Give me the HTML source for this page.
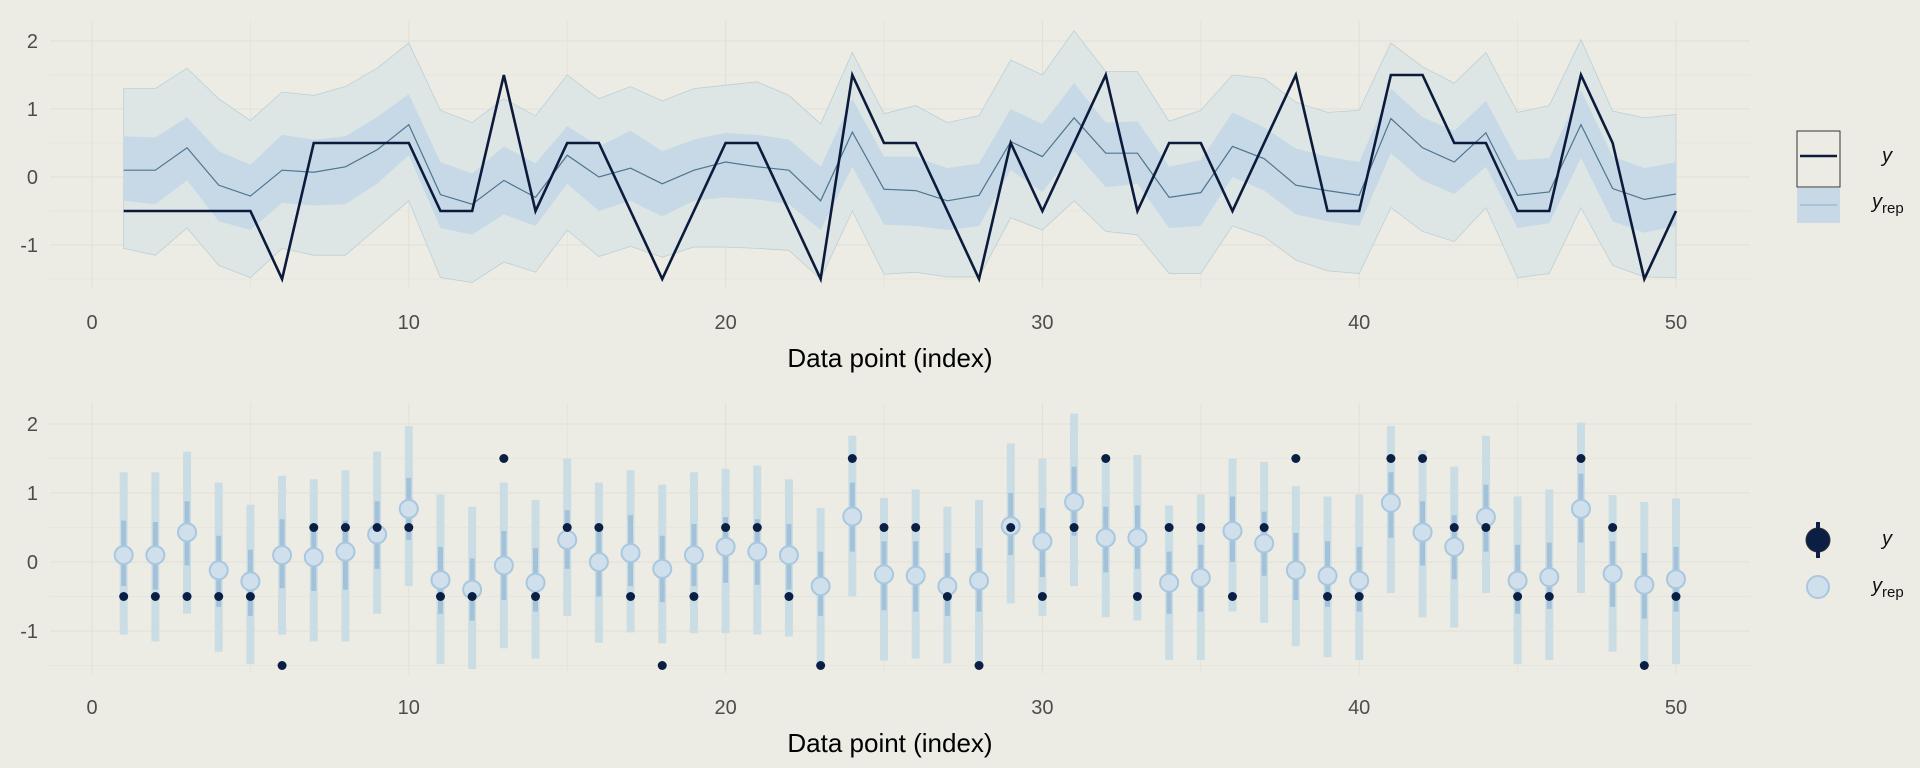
<!DOCTYPE html>
<html><head><meta charset="utf-8"><style>
body{margin:0;background:#ecece4;font-family:"Liberation Sans",sans-serif}
svg{display:block}
</style></head><body>
<svg id="c" width="1920" height="768"></svg>
<script>
const idx=[];for(let i=1;i<=50;i++)idx.push(i);
const yObs=[-0.5,-0.5,-0.5,-0.5,-0.5,-1.5,0.5,0.5,0.5,0.5,-0.5,-0.5,1.5,-0.5,0.5,0.5,-0.5,-1.5,-0.5,0.5,0.5,-0.5,-1.5,1.5,0.5,0.5,-0.5,-1.5,0.5,-0.5,0.5,1.5,-0.5,0.5,0.5,-0.5,0.5,1.5,-0.5,-0.5,1.5,1.5,0.5,0.5,-0.5,-0.5,1.5,0.5,-1.5,-0.5];
const med=[0.1,0.1,0.43,-0.12,-0.28,0.1,0.07,0.15,0.4,0.77,-0.26,-0.4,-0.05,-0.3,0.32,0,0.13,-0.1,0.1,0.22,0.15,0.1,-0.35,0.66,-0.18,-0.2,-0.35,-0.27,0.52,0.3,0.87,0.35,0.35,-0.3,-0.23,0.45,0.27,-0.12,-0.2,-0.27,0.86,0.43,0.22,0.65,-0.27,-0.22,0.77,-0.17,-0.33,-0.25];
const hiOuter=[1.3,1.3,1.6,1.15,0.83,1.25,1.2,1.33,1.6,1.97,0.98,0.8,1.15,0.9,1.5,1.15,1.33,1.12,1.3,1.35,1.4,1.2,0.78,1.83,0.93,1.05,0.8,0.9,1.72,1.5,2.15,1.55,1.55,0.82,0.98,1.5,1.45,1.1,0.95,0.98,1.97,1.62,1.38,1.83,0.95,1.05,2.02,0.97,0.87,0.92];
const loOuter=[-1.05,-1.15,-0.75,-1.3,-1.48,-1.05,-1.15,-1.15,-0.75,-0.35,-1.48,-1.55,-1.25,-1.4,-0.78,-1.17,-1.02,-1.18,-1.03,-1.03,-1.05,-1.08,-1.5,-0.5,-1.43,-1.4,-1.47,-1.47,-0.6,-0.78,-0.35,-0.8,-0.85,-1.42,-1.42,-0.72,-0.88,-1.22,-1.38,-1.42,-0.45,-0.8,-0.95,-0.45,-1.48,-1.42,-0.45,-1.3,-1.47,-1.48];
const hiInner=[0.6,0.58,0.88,0.38,0.18,0.62,0.55,0.6,0.88,1.22,0.22,0.05,0.45,0.2,0.75,0.45,0.68,0.38,0.55,0.65,0.62,0.55,0.15,1.15,0.3,0.3,0.13,0.2,1.0,0.78,1.38,0.8,0.82,0.15,0.25,0.95,0.73,0.42,0.3,0.22,1.3,0.88,0.68,1.12,0.25,0.28,1.28,0.3,0.13,0.22];
const loInner=[-0.35,-0.4,-0.05,-0.65,-0.78,-0.38,-0.42,-0.4,-0.1,0.32,-0.75,-0.85,-0.55,-0.72,-0.1,-0.5,-0.35,-0.58,-0.35,-0.3,-0.33,-0.4,-0.78,0.15,-0.7,-0.72,-0.78,-0.72,0.1,-0.22,0.38,-0.15,-0.1,-0.75,-0.72,0,-0.2,-0.55,-0.65,-0.72,0.35,-0.05,-0.25,0.15,-0.75,-0.68,0.28,-0.65,-0.82,-0.72];
const xTicks=[0,10,20,30,40,50];
const yTicks=[-1,0,1,2];

const NS="http://www.w3.org/2000/svg";
const svg=document.getElementById('c');
function el(t,a,p){const e=document.createElementNS(NS,t);for(const k in a)e.setAttribute(k,a[k]);(p||svg).appendChild(e);return e;}
const X=v=>92+v*31.68;

function panel(y0,yScale,name){
  const Y=v=>y0-v*yScale;
  const g=el('g',{});
  
  
  const yTop=Y(2.3),yBot=Y(-1.62);
  for(let v=0;v<=52.5;v+=5){el('line',{x1:X(v),x2:X(v),y1:yTop,y2:yBot,stroke:'#e0e0d8','stroke-width':v%10?0.6:1},g);}
  for(let v=-1.5;v<=2;v+=0.5){el('line',{x1:50,x2:1750,y1:Y(v),y2:Y(v),stroke:'#e0e0d8','stroke-width':Number.isInteger(v)?1:0.6},g);}
  xTicks.forEach(t=>{const e=el('text',{x:X(t),y:y0+152,'font-size':20,fill:'#4d4d4d','text-anchor':'middle'},g);e.textContent=t;
    
    });
  yTicks.forEach(t=>{const e=el('text',{x:38,y:Y(t)+7,'font-size':20,fill:'#4d4d4d','text-anchor':'end'},g);e.textContent=t;
    
    });
  const xt=el('text',{x:890,y:y0+190,'font-size':26,fill:'#000','text-anchor':'middle'},g);xt.textContent='Data point (index)';
  
  
  return {Y,g};
}

const t=panel(177,68,'ribbon-panel');
const Yt=t.Y;
function band(hi,lo,fill,stroke){
  let d='M'+idx.map((x,i)=>X(x)+','+Yt(hi[i])).join('L');
  d+='L'+idx.slice().reverse().map((x,j)=>{const i=49-j;return X(x)+','+Yt(lo[i]);}).join('L')+'Z';
  return el('path',{d,fill,stroke:stroke||'none','stroke-width':0.8},t.g);
}
const ob=band(hiOuter,loOuter,'#dde6e4','#bccfd6');


const ib=band(hiInner,loInner,'#c7d9e6','none');


const ml=el('polyline',{points:idx.map((x,i)=>X(x)+','+Yt(med[i])).join(' '),fill:'none',stroke:'#4f7590','stroke-width':1.2},t.g);


const yl=el('polyline',{points:idx.map((x,i)=>X(x)+','+Yt(yObs[i])).join(' '),fill:'none',stroke:'#0c1a3c','stroke-width':2.6},t.g);



const b=panel(562,69,'points-panel');
const Yb=b.Y;
idx.forEach((x,i)=>{
  const o=el('line',{x1:X(x),x2:X(x),y1:Yb(hiOuter[i]),y2:Yb(loOuter[i]),stroke:'#cadde4','stroke-width':8},b.g);
  
  
  const n=el('line',{x1:X(x),x2:X(x),y1:Yb(hiInner[i]),y2:Yb(loInner[i]),stroke:'#a3c2d9','stroke-width':5},b.g);
  
  
  const c=el('circle',{cx:X(x),cy:Yb(med[i]),r:9,fill:'#cfe0ec',stroke:'#a9c7de','stroke-width':2},b.g);
  
  
});
idx.forEach((x,i)=>{
  const c=el('circle',{cx:X(x),cy:Yb(yObs[i]),r:4.5,fill:'#0b1f45'},b.g);
  
  
});

function lt(x,y,main,sub,name){const e=el('text',{x,y,'font-size':20,'font-style':'italic',fill:'#111'});e.textContent=main;
  
  
  if(sub){const s=el('tspan',{'font-size':15,'font-style':'normal',dy:5},e);s.textContent=sub;}}
const lg1=el('rect',{x:1797,y:131,width:43,height:56,fill:'#ecece4',stroke:'#333','stroke-width':1});


el('line',{x1:1800,x2:1837,y1:156,y2:156,stroke:'#0c1a3c','stroke-width':2.6});
const lg2=el('rect',{x:1797,y:188,width:43,height:35,fill:'#c7d9e6'});


el('line',{x1:1800,x2:1837,y1:205,y2:205,stroke:'#a9c4d6','stroke-width':2});
lt(1882,162,'y','','legend-y-label');
lt(1872,208,'y','rep','legend-yrep-label');
const lc1=el('circle',{cx:1818,cy:540,r:12,fill:'#0b1f45',stroke:'#333','stroke-width':1});


el('line',{x1:1818,x2:1818,y1:522,y2:558,stroke:'#0b1f45','stroke-width':4});
const lc2=el('circle',{cx:1818,cy:587,r:11,fill:'#cfe0ec',stroke:'#a9c7de','stroke-width':2});


lt(1882,545,'y','','legend-y-label-2');
lt(1872,592,'y','rep','legend-yrep-label-2');
</script>
</body></html>
